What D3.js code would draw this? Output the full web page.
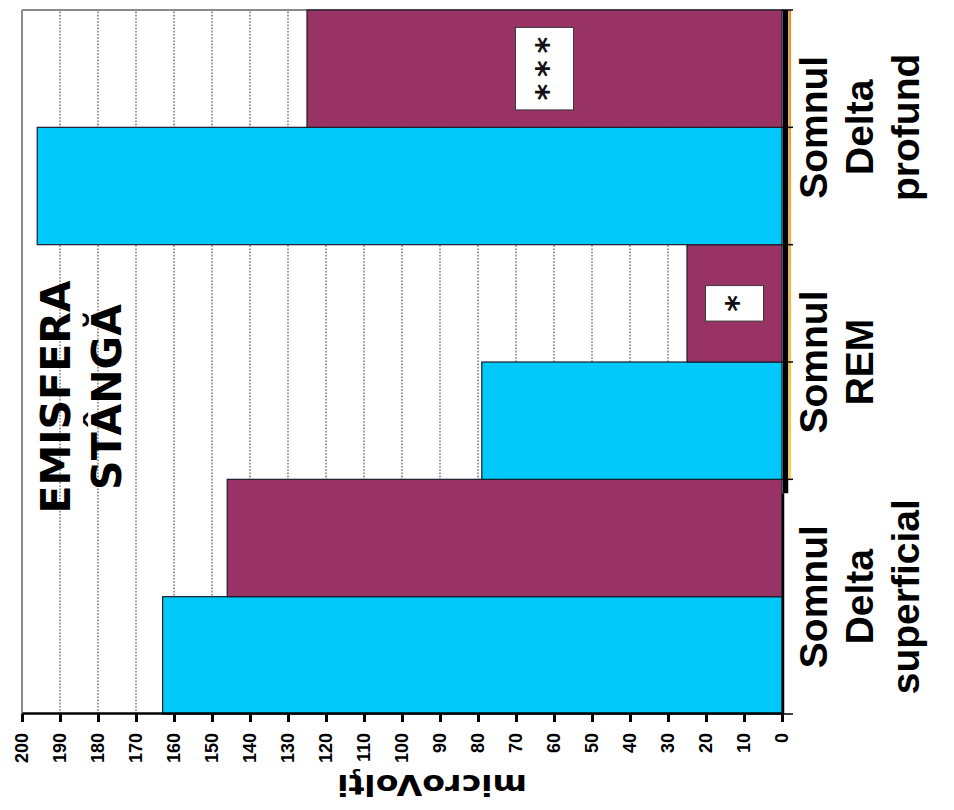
<!DOCTYPE html>
<html>
<head>
<meta charset="utf-8">
<script src="https://cdn.jsdelivr.net/npm/d3@7/dist/d3.min.js"></script>
<style>
  html, body { margin: 0; padding: 0; background: #fff; }
  svg { display: block; }
</style>
</head>
<body>
<svg id="chart" width="954" height="810"></svg>
<script>
// Sleep stages and the amplitude (microvolts) measured in each of two groups
const categories = ["Somnul Delta superficial", "Somnul REM", "Somnul Delta profund"];
const categoryLines = [["Somnul", "Delta", "superficial"], ["Somnul", "REM"], ["Somnul", "Delta", "profund"]];
const seriesA = [163, 79, 196];
const seriesB = [146, 25, 125];
const significance = ["", "*", "***"];      // marks drawn inside the second bar of each stage
const valueTicks = d3.range(0, 201, 10);
const titleLines = ["EMISFERA", "STÂNGĂ"];
const axisTitle = "microVolţi";

const seriesColors = ["#00C8F8", "#993366"];

const svg = d3.select("#chart");
svg.append("rect").attr("width", 954).attr("height", 810).attr("fill", "#fff");

// The chart is laid out as an ordinary column chart, then turned a quarter turn
const g = svg.append("g").attr("transform", "translate(0,810) rotate(-90)");

const x = d3.scaleBand().domain(categories).range([96, 800]).padding(0);
const x1 = d3.scaleBand().domain([0, 1]).range([0, x.bandwidth()]).padding(0);
const y = d3.scaleLinear().domain([0, 200]).range([782, 22]);

// dotted gridlines
g.append("g").selectAll("line")
  .data(valueTicks.filter(t => t > 0 && t < 200))
  .join("line")
  .attr("x1", 96).attr("x2", 800)
  .attr("y1", d => y(d)).attr("y2", d => y(d))
  .attr("stroke", "#6e6e6e").attr("stroke-width", 1.4)
  .attr("stroke-dasharray", "1.6,1.6");

// plot frame (top and far side)
g.append("line").attr("x1", 96).attr("x2", 800).attr("y1", y(200)).attr("y2", y(200))
  .attr("stroke", "#8a8a8a").attr("stroke-width", 2);
g.append("line").attr("x1", 800).attr("x2", 800).attr("y1", y(200)).attr("y2", y(0))
  .attr("stroke", "#8a8a8a").attr("stroke-width", 2);

// bars
const rows = categories.map((c, i) => ({ cat: c, values: [seriesA[i], seriesB[i]] }));
const groups = g.append("g").selectAll("g").data(rows).join("g")
  .attr("transform", d => `translate(${x(d.cat)},0)`);
groups.selectAll("rect")
  .data(d => d.values.map((v, k) => ({ v, k })))
  .join("rect")
  .attr("x", d => x1(d.k))
  .attr("y", d => y(d.v))
  .attr("width", x1.bandwidth())
  .attr("height", d => y(0) - y(d.v))
  .attr("fill", d => seriesColors[d.k])
  .attr("stroke", "#1c1c2a").attr("stroke-width", 1.2);

// significance boxes, centred on the second bar of each stage
rows.forEach((d, i) => {
  const mark = significance[i];
  if (!mark) return;
  const cx = x(d.cat) + x1(1) + x1.bandwidth() / 2;
  const cy = (y(d.values[1]) + y(0)) / 2;
  const w = 12 + 23.5 * mark.length;
  const h = 58;
  g.append("rect")
    .attr("x", cx - w / 2).attr("y", cy - h / 2)
    .attr("width", w).attr("height", h)
    .attr("fill", "#fff").attr("stroke", "#3a3a3a").attr("stroke-width", 1);
  const step = 23.5;
  mark.split("").forEach((ch, j) => {
    g.append("text")
      .attr("x", cx + (j - (mark.length - 1) / 2) * step)
      .attr("y", cy + 13)
      .attr("text-anchor", "middle")
      .attr("font-family", "'DejaVu Sans', sans-serif")
      .attr("font-weight", "bold")
      .attr("font-size", 32)
      .attr("fill", "#111")
      .text(ch);
  });
});

// value axis
const yAxis = g.append("g").attr("transform", "translate(96,0)")
  .call(d3.axisLeft(y).tickValues(valueTicks).tickSize(8).tickSizeOuter(0).tickPadding(11).tickFormat(d3.format("d")));
yAxis.select(".domain").attr("stroke", "#000").attr("stroke-width", 2.5);
yAxis.selectAll(".tick line").attr("stroke", "#000").attr("stroke-width", 3);
yAxis.selectAll(".tick text")
  .attr("font-family", "'Liberation Sans', Arial, sans-serif")
  .attr("font-weight", "bold").attr("font-size", 18).attr("fill", "#000");

// category axis: thick rule with a coloured edge beside the first two stages
const defs = svg.append("defs");
const grad = defs.append("linearGradient").attr("id", "edgeGrad")
  .attr("gradientUnits", "userSpaceOnUse")
  .attr("x1", x(categories[1])).attr("x2", 800).attr("y1", 0).attr("y2", 0);
grad.append("stop").attr("offset", 0).attr("stop-color", "#F4D452");
grad.append("stop").attr("offset", 1).attr("stop-color", "#E8922E");

g.append("line").attr("x1", 96).attr("x2", x(categories[1]) - 14)
  .attr("y1", y(0) + 1).attr("y2", y(0) + 1)
  .attr("stroke", "#000").attr("stroke-width", 2.5);
g.append("line").attr("x1", x(categories[1]) - 14).attr("x2", 800)
  .attr("y1", y(0) + 3.5).attr("y2", y(0) + 3.5)
  .attr("stroke", "#000").attr("stroke-width", 5.5);
g.append("rect").attr("x", x(categories[1])).attr("width", 800 - x(categories[1]))
  .attr("y", y(0) + 6.5).attr("height", 2.6).attr("fill", "url(#edgeGrad)");

const catTicks = [96];
categories.slice(1).forEach(c => {
  catTicks.push(x(c), x(c) + x1(1));
});
catTicks.push(800);
g.append("g").selectAll("line").data(catTicks).join("line")
  .attr("x1", d => d).attr("x2", d => d)
  .attr("y1", y(0)).attr("y2", y(0) + 11)
  .attr("stroke", "#000").attr("stroke-width", 1.5);

// category labels
const catLabels = g.append("g").selectAll("text").data(categories).join("text")
  .attr("text-anchor", "middle")
  .attr("font-family", "'Liberation Sans', Arial, sans-serif")
  .attr("font-weight", "bold").attr("font-size", 39).attr("fill", "#000");
catLabels.each(function (c, i) {
  const t = d3.select(this);
  categoryLines[i].forEach((line, j) => {
    t.append("tspan")
      .attr("x", x(c) + x.bandwidth() / 2)
      .attr("y", 827 + j * 46)
      .text(line);
  });
});

// axis title
g.append("text")
  .attr("transform", `translate(35,${(y(0) + y(200)) / 2 + 30}) rotate(-90)`)
  .attr("text-anchor", "middle")
  .attr("font-family", "'DejaVu Sans', sans-serif")
  .attr("font-weight", "bold").attr("font-size", 29)
  .attr("textLength", 190).attr("lengthAdjust", "spacingAndGlyphs")
  .attr("fill", "#000")
  .text(axisTitle);

// chart heading
g.append("g").selectAll("text").data(titleLines).join("text")
  .attr("x", 413)
  .attr("y", (d, i) => 70 + i * 51)
  .attr("text-anchor", "middle")
  .attr("font-family", "'DejaVu Sans', sans-serif")
  .attr("font-weight", "bold").attr("font-size", 41).attr("fill", "#000")
  .text(d => d);
</script>
</body>
</html>
